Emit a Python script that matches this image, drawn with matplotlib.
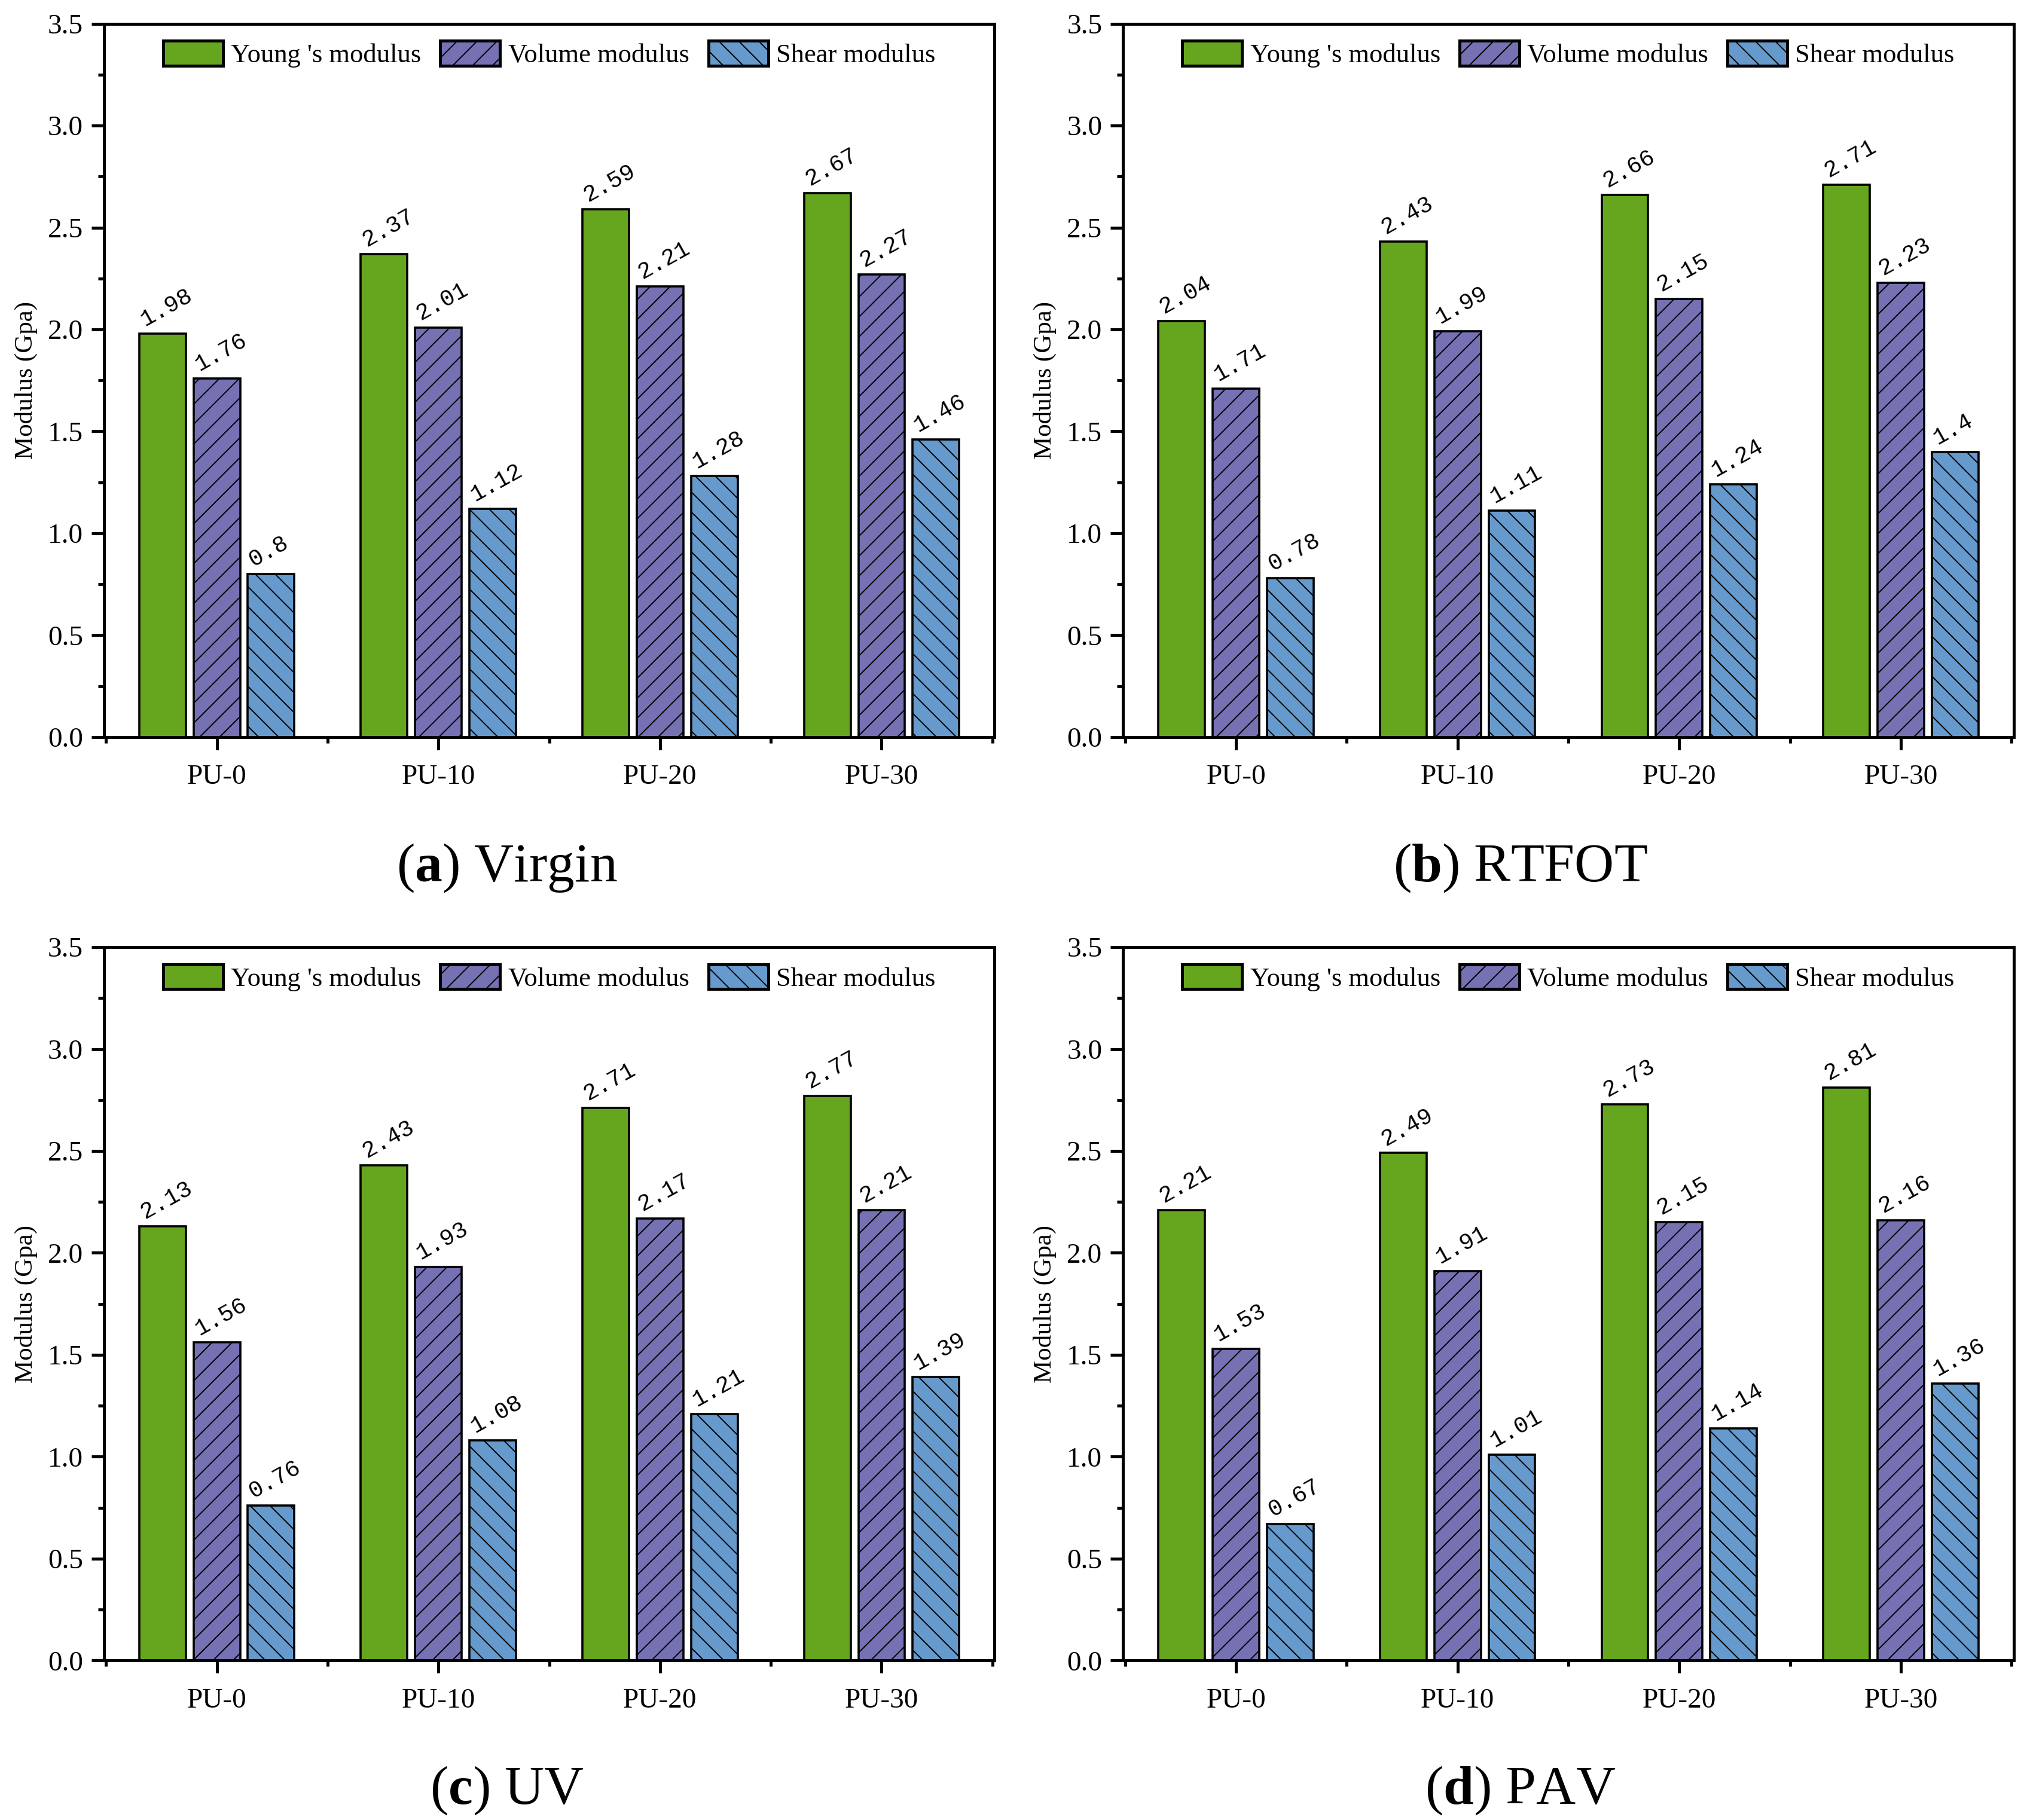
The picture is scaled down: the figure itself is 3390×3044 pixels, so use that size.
import matplotlib
matplotlib.use("Agg")
import matplotlib.pyplot as plt
import numpy as np
from matplotlib.patches import Patch
from matplotlib.ticker import MultipleLocator, FormatStrFormatter

plt.rcParams['font.family'] = ['Liberation Serif', 'DejaVu Serif']
plt.rcParams['mathtext.fontset'] = 'custom'
plt.rcParams['mathtext.rm'] = 'Liberation Serif'
plt.rcParams['mathtext.bf'] = 'Liberation Serif:bold'
plt.rcParams['hatch.linewidth'] = 0.7

categories = ["PU-0", "PU-10", "PU-20", "PU-30"]
series_names = ["Young 's modulus", "Volume modulus", "Shear modulus"]
panel_titles = ["a", "b", "c", "d"]
panel_names = ["Virgin", "RTFOT", "UV", "PAV"]

young_a = [1.98, 2.37, 2.59, 2.67]
volume_a = [1.76, 2.01, 2.21, 2.27]
shear_a = [0.8, 1.12, 1.28, 1.46]

young_b = [2.04, 2.43, 2.66, 2.71]
volume_b = [1.71, 1.99, 2.15, 2.23]
shear_b = [0.78, 1.11, 1.24, 1.4]

young_c = [2.13, 2.43, 2.71, 2.77]
volume_c = [1.56, 1.93, 2.17, 2.21]
shear_c = [0.76, 1.08, 1.21, 1.39]

young_d = [2.21, 2.49, 2.73, 2.81]
volume_d = [1.53, 1.91, 2.15, 2.16]
shear_d = [0.67, 1.01, 1.14, 1.36]

panels = [(young_a, volume_a, shear_a), (young_b, volume_b, shear_b),
          (young_c, volume_c, shear_c), (young_d, volume_d, shear_d)]

colors = ["#66A61E", "#7571B3", "#669ACC"]
hatches = [None, "//", "\\\\"]

fig = plt.figure(figsize=(16.95, 15.22), dpi=200)

ax_w = 0.4395
ax_h = 0.392
lefts = [0.0512, 0.554]
bottoms = [0.595, 0.0876]
cap_x = [0.25, 0.75]
cap_y = [0.516, 0.009]

bar_w = 0.21
pitch = 0.245
x = np.arange(len(categories))

for i, data in enumerate(panels):
    r, c = divmod(i, 2)
    ax = fig.add_axes([lefts[c], bottoms[r], ax_w, ax_h])
    for k, vals in enumerate(data):
        pos = x + (k - 1) * pitch
        ax.bar(pos, vals, width=bar_w, color=colors[k], edgecolor='black',
               linewidth=1.3, hatch=hatches[k], zorder=2)
        for px, v in zip(pos, vals):
            ax.text(px - bar_w / 2 + 0.025, v + 0.035, str(v),
                    rotation=29, rotation_mode='anchor', ha='left', va='baseline',
                    fontsize=14, family=['Liberation Mono', 'DejaVu Sans Mono'])
    ax.set_xlim(-0.51, 3.51)
    ax.set_ylim(0, 3.5)
    ax.set_xticks(x)
    ax.set_xticklabels(categories)
    ax.xaxis.set_minor_locator(MultipleLocator(0.5))
    ax.yaxis.set_major_locator(MultipleLocator(0.5))
    ax.yaxis.set_minor_locator(MultipleLocator(0.25))
    ax.yaxis.set_major_formatter(FormatStrFormatter('%.1f'))
    ax.tick_params(axis='both', which='major', direction='out', length=7.5,
                   width=1.8, labelsize=17)
    ax.tick_params(axis='both', which='minor', direction='out', length=3.6, width=1.8)
    ax.tick_params(axis='x', which='major', pad=9)
    ax.tick_params(axis='y', which='major', pad=5)
    for s in ax.spines.values():
        s.set_linewidth(1.8)
    ax.set_ylabel("Modulus (Gpa)", fontsize=15.5, labelpad=6)
    handles = [Patch(facecolor=colors[k], edgecolor='black', linewidth=1.8,
                     hatch=hatches[k], label=series_names[k]) for k in range(3)]
    ax.legend(handles=handles, loc='upper center', ncol=3, frameon=False,
              fontsize=16, handlelength=2.25, handleheight=1.05, columnspacing=0.72,
              handletextpad=0.3, bbox_to_anchor=(0.5, 1.0), borderaxespad=0.25)
    fig.text(cap_x[c], cap_y[r],
             r"($\mathbf{%s}$) %s" % (panel_titles[i], panel_names[i]),
             ha='center', va='baseline', fontsize=33)

fig.savefig("out.png", dpi=200)
